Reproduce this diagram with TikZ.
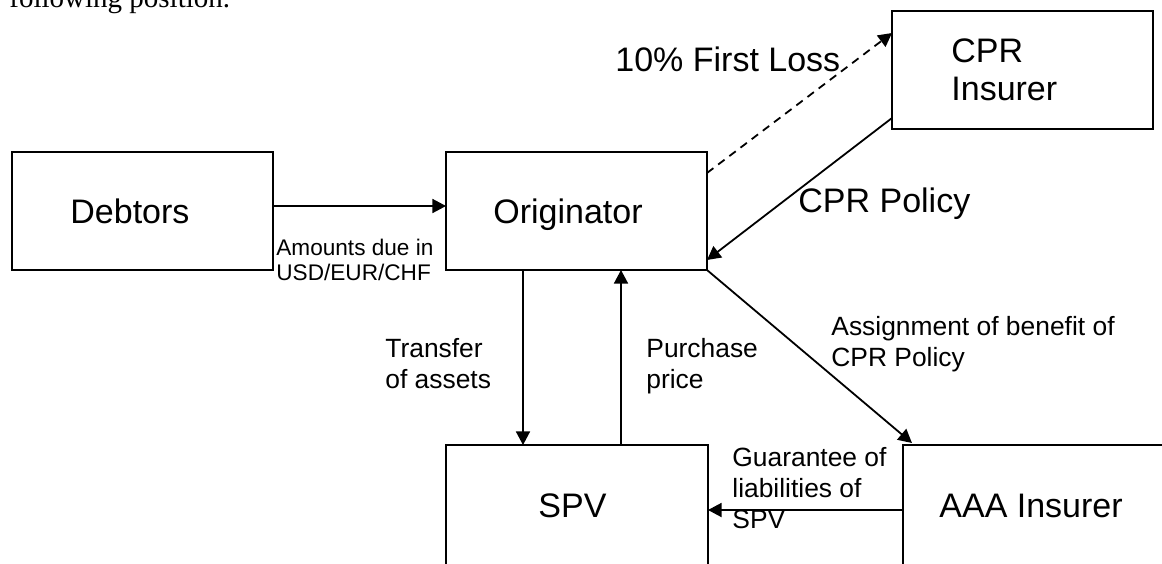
\documentclass[tikz,border=0pt]{standalone}
\usepackage{fontspec}
\setmainfont{Liberation Sans}
\newfontfamily\bodyserif{Liberation Serif}
\usetikzlibrary{arrows.meta,fit}

\begin{document}
\begin{tikzpicture}[x=0.5pt,y=-0.5pt,
  box/.style={draw, line width=0.9pt, rectangle, inner sep=0pt, outer sep=0pt},
  big/.style={font=\fontsize{17}{19}\selectfont, inner sep=0pt, anchor=base west, align=left},
  lab/.style={font=\fontsize{13.2}{15.5}\selectfont, inner sep=0pt, anchor=base west, align=left},
  small/.style={font=\fontsize{11.3}{12.5}\selectfont, inner sep=0pt, anchor=base west, align=left},
  arr/.style={line width=0.9pt, -{Triangle[length=6.8pt,width=7pt]}},
]
\useasboundingbox (0,0) rectangle (1162,563);
\clip (0,0) rectangle (1162,563);

% end of the preceding paragraph
\node[inner sep=0pt, anchor=base west, font=\bodyserif\fontsize{14.5}{17}\selectfont] (para) at (9,7) {following position.};

% parties
\node[box, fit={(12,152) (273,270)}] (deb) {};
\node[box, fit={(446,152) (707,270)}] (orig) {};
\node[box, fit={(892,11) (1153,129)}] (cpr) {};
\node[box, fit={(446,445) (708,580)}] (spv) {};
\node[box, fit={(903,445) (1180,580)}] (aaa) {};

% multi-line nodes are placed by the baseline of their last line
\node[big] (debt) at (70,223) {Debtors};
\node[big] (origt) at (493,223) {Originator};
\node[big] (cprt) at (951,100) {CPR\\Insurer};
\node[big] (spvt) at (538,517) {SPV};
\node[big] (aaat) at (939,517) {AAA Insurer};

% flows
\draw[arr] ([yshift=2.5pt]deb.east) -- ([yshift=2.5pt]orig.west);
\draw[arr, dash pattern=on 4pt off 3pt] ([yshift=-10.5pt]orig.north east) -- ([yshift=-11pt]cpr.north west);
\draw[arr] ([yshift=5.5pt]cpr.south west) -- ([yshift=5pt]orig.south east);
\draw[arr] (orig.south east) -- ([xshift=4.5pt,yshift=1pt]aaa.north west);
\draw[arr] ([xshift=38.5pt]orig.south west) -- ([xshift=38.5pt]spv.north west);
\draw[arr] ([xshift=87.5pt]spv.north west) -- ([xshift=87.5pt]orig.south west);
\draw[arr] ([yshift=-32.5pt]aaa.north west) -- ([yshift=-32.5pt]spv.north east);

% flow labels
\node[small] (amt) at (276,280) {Amounts due in\\USD/EUR/CHF};
\node[big] (loss) at (615,71) {10\% First Loss};
\node[big] (pol) at (798,212) {CPR Policy};
\node[lab] (trf) at (385,388) {Transfer\\of assets};
\node[lab] (pp) at (646,388) {Purchase\\price};
\node[lab] (asg) at (831,366) {Assignment of benefit of\\CPR Policy};
\node[lab] (gua) at (732,528) {Guarantee of\\liabilities of\\SPV};
\end{tikzpicture}
\end{document}
